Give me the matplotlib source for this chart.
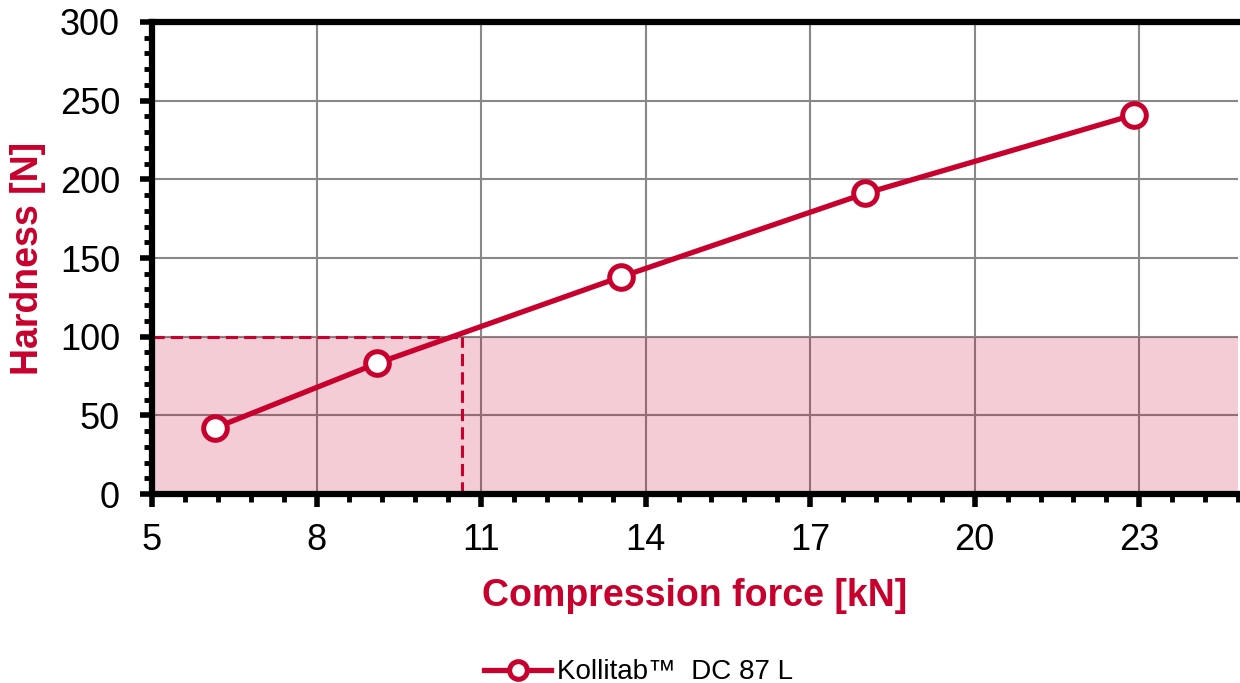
import numpy as np
import matplotlib.pyplot as plt
from matplotlib.ticker import FixedLocator, MultipleLocator

plt.rcParams['font.family'] = ['Liberation Sans', 'DejaVu Sans']

# data
force = [6.15, 9.1, 13.55, 18.0, 22.9]
hardness = [42, 83, 138, 191, 241]
target_hardness = 100
target_force = 10.65
label = "Kollitab\u2122  DC 87 L"
x_major = [5, 8, 11, 14, 17, 20, 23]

red = "#c8002d"

fig = plt.figure(figsize=(12.4, 6.83), dpi=100)
ax = fig.add_axes([0.1226, 0.2767, 0.8758, 0.6911])

ax.set_xlim(5, 24.8)
ax.set_ylim(0, 300)
ax.xaxis.set_major_locator(FixedLocator(x_major))
ax.xaxis.set_minor_locator(FixedLocator(np.arange(5, 24.9, 0.6)))
ax.yaxis.set_major_locator(MultipleLocator(50))
ax.yaxis.set_minor_locator(MultipleLocator(10))

ax.grid(True, which="major", color="#888888", linewidth=1.5, zorder=0)
ax.set_axisbelow(True)

# shaded region below target hardness
ax.axhspan(0, target_hardness, color=red, alpha=0.2, linewidth=0, zorder=1)

# dashed guide lines
ax.plot([5, target_force], [target_hardness, target_hardness], color=red,
        linestyle=(0, (4, 2)), linewidth=2.2, zorder=2)
ax.plot([target_force, target_force], [0, target_hardness], color=red,
        linestyle=(0, (4, 2)), linewidth=2.2, zorder=2)

ax.plot(force, hardness, color=red, linewidth=3.8, marker="o", markersize=17,
        markerfacecolor="white", markeredgecolor=red, markeredgewidth=3.6,
        label=label, zorder=3, clip_on=False)

for s in ["left", "bottom", "top"]:
    ax.spines[s].set_linewidth(4.5)
    ax.spines[s].set_color("black")
ax.spines["right"].set_visible(False)

ax.tick_params(which="major", direction="out", length=9, width=4, labelsize=26)
ax.tick_params(axis="y", which="major", pad=14)
ax.tick_params(axis="x", which="major", pad=12)
ax.tick_params(which="minor", direction="out", length=6, width=3.5)

ax.set_xlabel("Compression force [kN]", color=red, fontsize=27,
              fontweight="bold", labelpad=14)
ax.set_ylabel("Hardness [N]", color=red, fontsize=27, fontweight="bold",
              labelpad=10)

fig.legend(loc="lower center", bbox_to_anchor=(0.515, -0.04), frameon=False,
           fontsize=20, handlelength=2.4, handletextpad=0.2, markerscale=0.75)

fig.savefig("out.png", dpi=100)
